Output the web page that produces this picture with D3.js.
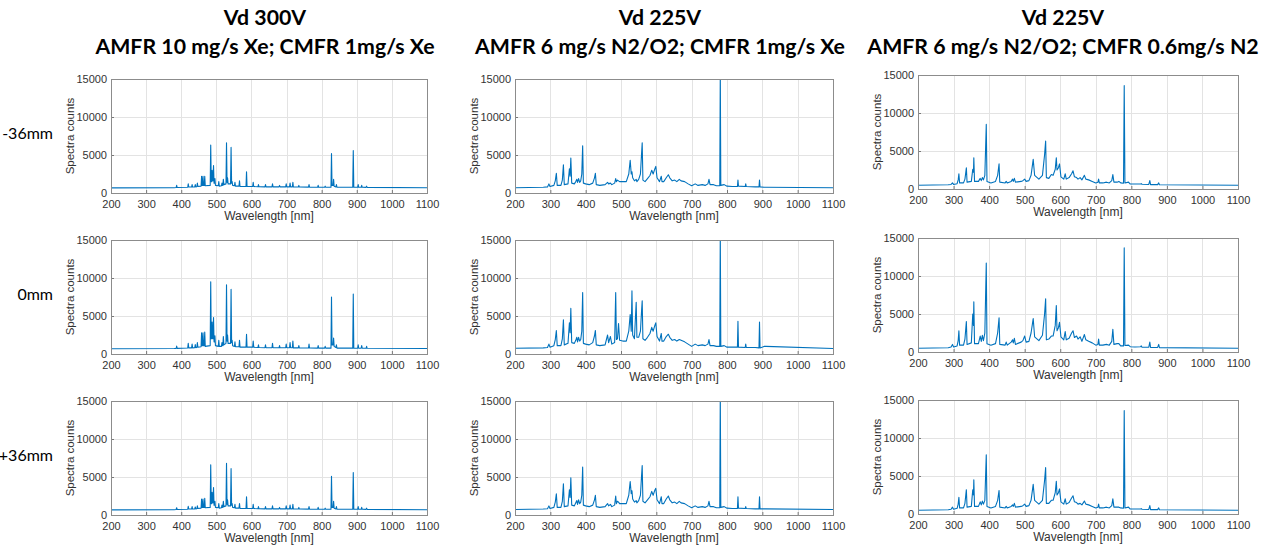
<!DOCTYPE html>
<meta charset="utf-8">
<script src="https://d3js.org/d3.v7.min.js"></script>
<style>
  body { margin: 0; background: #fff; }
  .tick text { font-family: "Liberation Sans", Arial, sans-serif; }
</style>
<body>
<div id="my_dataviz"></div>
<script>

// ---- labels ----
var colTitles = [
  ["Vd 300V", "AMFR 10 mg/s Xe; CMFR 1mg/s Xe"],
  ["Vd 225V", "AMFR 6 mg/s N2/O2; CMFR 1mg/s Xe"],
  ["Vd 225V", "AMFR 6 mg/s N2/O2; CMFR 0.6mg/s N2"]
];
var rowLabels = ["-36mm", "0mm", "+36mm"];
var xTicks = [200, 300, 400, 500, 600, 700, 800, 900, 1000, 1100];
var yTicks = [0, 5000, 10000, 15000];

// ---- column 1 : Xe anode / Xe cathode ----
var xeNm = [200, 380,
  385.5, 387, 388.5,  418.5, 420, 421.5,  429.5, 431, 432.5,  438.5, 440, 441.5,
  444.5, 446, 447.5,  456.5, 458, 459.5,  460.5, 462, 463.5,  465.5, 467, 468.5,
  482.5, 484, 485.5,  486.5, 488, 489.5,  490.5, 492, 493.5,  494.5, 496, 497.5,
  505.5, 507, 508.5,  514.5, 516, 517.5,  518.5, 520, 521.5,  527.5, 529, 530.5,
  531, 532, 533.5,    540.5, 542, 543.5,  544, 545, 546.5,    551.5, 553, 554.5,
  564.5, 566, 567.5,  584.5, 586, 587.5,  603.5, 605, 606.5,  618.5, 620, 621.5,
  638.5, 640, 641.5,  658.5, 660, 661.5,  678.5, 680, 681.5,  697.5, 699, 700.5,
  708.5, 710, 711.5,  716.5, 718, 719.5,  733.5, 735, 736.5,  762.5, 764, 765.5,
  788.5, 790, 791.5,  808.5, 810, 811.5,  826.5, 828, 829.5,  832.5, 834, 835.5,
  840.5, 842, 843.5,  888.5, 890, 891.5,  902.5, 904, 905.5,  912.5, 914, 915.5,
  926.5, 928, 929.5,
  1100];
var xeM36 = [680, 700,
  720, 1000, 720,   760, 1200, 780,   780, 1100, 780,   800, 1100, 800,
  820, 1300, 850,   900, 2200, 1000,  1000, 2200, 1000, 1000, 2200, 950,
  1000, 6300, 1500, 1500, 3000, 1600, 1600, 3600, 1300, 1300, 1900, 1000,
  950, 1500, 900,   950, 1300, 1000,  1000, 1800, 1100, 1200, 6600, 1400,
  1400, 2000, 1200, 1200, 6000, 1300, 1300, 1500, 1000, 950, 1400, 900,
  900, 1600, 850,   850, 2800, 850,   850, 1400, 850,   820, 1100, 820,
  800, 1100, 800,   800, 1200, 800,   800, 1000, 800,   800, 1200, 800,
  800, 1300, 800,   800, 1400, 780,   780, 1000, 780,   770, 1100, 770,
  760, 1000, 760,   760, 900, 760,    760, 5200, 1000,  1000, 1800, 900,
  800, 1100, 760,   760, 5600, 760,   750, 1100, 750,   750, 1000, 750,
  740, 900, 740,
  700];
var xe0 = [700, 720,
  740, 1050, 740,   780, 1400, 800,   800, 1300, 800,   820, 1250, 820,
  850, 1500, 880,   950, 2800, 1100,  1100, 2800, 1100, 1100, 2900, 1000,
  1100, 9500, 2000, 2000, 4200, 2000, 2000, 4800, 1600, 1600, 2400, 1100,
  1000, 1800, 1000, 1000, 1500, 1100, 1100, 2300, 1200, 1400, 9100, 1700,
  1700, 2500, 1400, 1400, 8500, 1500, 1500, 1800, 1100, 1000, 1600, 950,
  950, 1800, 900,   900, 2600, 900,   900, 1700, 900,   850, 1200, 850,
  820, 1200, 820,   820, 1400, 820,   820, 1100, 820,   820, 1300, 820,
  820, 1500, 820,   820, 1700, 800,   800, 1100, 800,   780, 1300, 780,
  770, 1100, 770,   770, 1000, 770,   770, 7500, 1200,  1200, 2100, 1000,
  850, 1200, 770,   770, 7900, 770,   760, 1200, 760,   760, 1100, 760,
  750, 1000, 750,
  720];
var xeP36 = [680, 700,
  720, 950, 720,    760, 1150, 780,   780, 1100, 780,   800, 1050, 800,
  820, 1200, 850,   900, 2100, 1000,  1000, 2100, 1000, 1000, 2200, 950,
  1000, 6600, 1500, 1500, 3000, 1600, 1600, 3600, 1300, 1300, 1800, 1000,
  950, 1500, 900,   950, 1300, 1000,  1000, 1800, 1100, 1200, 6800, 1400,
  1400, 2000, 1200, 1200, 6100, 1300, 1300, 1500, 1000, 950, 1400, 900,
  900, 1500, 850,   850, 2400, 850,   850, 1400, 850,   820, 1100, 820,
  800, 1100, 800,   800, 1200, 800,   800, 1000, 800,   800, 1200, 800,
  800, 1300, 800,   800, 1400, 780,   780, 1000, 780,   770, 1100, 770,
  760, 1000, 760,   760, 900, 760,    760, 5100, 1000,  1000, 1800, 900,
  800, 1100, 760,   760, 5600, 760,   750, 1100, 750,   750, 1000, 750,
  740, 900, 740,
  700];

// ---- column 2 : N2/O2 anode / Xe cathode ----
var n2xeNm = [200, 280, 292, 296, 299, 310, 314, 317, 319.5, 330, 334, 337, 339.5,
  350, 354, 356, 358, 360.5, 368, 372, 375, 377, 380, 383, 386, 389, 391.5, 393.5,
  400, 410, 420, 425, 427.5, 430, 440, 455, 462, 465, 470, 474, 482, 485, 487, 490,
  493, 496, 505, 515, 522, 526, 529, 531, 533, 538, 543, 545, 550, 555, 558, 560,
  562, 568, 575, 582, 587, 591, 596, 598.5, 602, 609, 614, 616, 621, 628, 634, 638,
  645, 652, 658, 665, 670, 680, 690, 700, 710, 718, 730, 738, 746, 749, 752, 762,
  770, 779.5, 781, 782.5, 792, 800, 815, 829.5, 831, 832.5, 851.5, 853, 854.5,
  880, 890.5, 892, 893.5, 905, 910, 1100];
var n2xeM36 = [700, 760, 800, 1200, 850, 1000, 1600, 2600, 1000, 1000, 1700, 3700, 1100,
  1200, 3200, 2200, 4600, 1300, 1200, 1500, 1800, 1400, 1900, 1400, 1600, 2500, 6200, 1300,
  1200, 1100, 1300, 2000, 2600, 1100, 1000, 1100, 1400, 1200, 1300, 1100, 1300, 1900, 1500, 1700,
  1600, 1500, 1500, 1500, 2500, 4300, 2500, 2800, 2000, 1600, 1800, 1500, 1800, 2500, 5000, 6600,
  1700, 1500, 1900, 2300, 3000, 2500, 3200, 3500, 2000, 1500, 2200, 1500, 1500, 2000, 2400, 2000,
  1600, 1700, 1500, 1800, 1600, 1500, 1200, 950, 1200, 1000, 1100, 1000, 1200, 1800, 1100, 1100,
  950, 950, 16000, 1000, 1100, 900, 850, 850, 1700, 900, 850, 1200, 850,
  800, 800, 1700, 800, 750, 750, 700];
var n2xe0 = [750, 800, 850, 1300, 900, 1100, 1900, 3100, 1100, 1100, 2000, 4500, 1200,
  1400, 4100, 2800, 6000, 1500, 1400, 1800, 2200, 1600, 2200, 1700, 1900, 3000, 8100, 1400,
  1300, 1200, 1500, 2400, 3100, 1200, 1100, 1200, 2500, 1500, 2300, 1300, 1500, 8100, 1900, 2000,
  4000, 1800, 1700, 1700, 3000, 5200, 3000, 8300, 2500, 2000, 6800, 2200, 2200, 3000, 5500, 7000,
  2000, 1800, 2200, 2700, 3500, 3000, 3800, 4100, 2300, 1700, 2700, 1700, 1700, 2300, 2600, 2200,
  1800, 1900, 1700, 1900, 1800, 1600, 1300, 1000, 1300, 1100, 1200, 1100, 1300, 1900, 1100, 1100,
  1000, 1000, 16000, 1000, 1100, 900, 900, 900, 4300, 900, 850, 1300, 850,
  850, 800, 4200, 800, 1000, 1000, 720];
var n2xeP36 = [720, 780, 820, 1200, 850, 1000, 1700, 2800, 1000, 1000, 1800, 4100, 1100,
  1200, 3300, 2300, 4900, 1300, 1200, 1600, 1900, 1400, 2000, 1500, 1700, 2600, 6300, 1300,
  1200, 1100, 1300, 2000, 2600, 1100, 1000, 1100, 1500, 1200, 1400, 1100, 1300, 2500, 1500, 1800,
  1700, 1500, 1500, 1500, 2600, 4400, 2800, 3200, 2100, 1700, 1900, 1600, 1900, 2600, 5000, 6500,
  1800, 1600, 2000, 2400, 3100, 2600, 3300, 3500, 2000, 1500, 2400, 1500, 1500, 2100, 2500, 2000,
  1600, 1700, 1500, 1800, 1600, 1500, 1200, 950, 1200, 1000, 1100, 1000, 1200, 1800, 1100, 1100,
  950, 950, 16000, 1000, 1100, 900, 850, 850, 2400, 900, 850, 1100, 850,
  800, 800, 2400, 800, 800, 800, 720];

// ---- column 3 : N2/O2 anode / N2 cathode ----
var n2n2Nm = [200, 285, 293, 297, 300, 310, 313, 315, 317, 328, 332, 336, 338,
  350, 354, 356, 357, 359, 370, 375, 378, 381, 384, 388, 392, 394, 405, 418, 424, 428, 430,
  445, 448, 451, 462, 466, 468, 471, 474, 490, 495, 500, 504, 512, 518, 524, 528, 540,
  550, 556, 559, 561, 568, 575, 580, 586, 589, 591, 595, 598, 602, 610, 614, 617, 625,
  632, 636, 640, 646, 650, 656, 661, 668, 672, 680, 690, 700, 706, 708, 710, 720, 730,
  738, 745, 748, 751, 760, 765, 770, 778, 780, 782, 792, 797, 810, 826, 828, 830,
  849, 852, 854, 874, 877, 879, 1100];
var n2n2M36 = [500, 560, 600, 800, 600, 700, 1200, 2000, 800, 800, 1300, 2800, 900,
  1000, 2600, 2200, 4100, 1000, 1000, 1400, 1100, 1500, 1200, 1800, 8500, 1000, 800, 1000, 1800, 3300, 900,
  800, 1000, 800, 1000, 1300, 1000, 1400, 900, 1000, 1100, 1300, 1000, 1100, 1800, 3900, 1800, 1300,
  1800, 4500, 6300, 1500, 1400, 1900, 1800, 2600, 4100, 2500, 2800, 3300, 1600, 1300, 2000, 1300, 1500,
  2000, 2400, 1600, 1500, 1300, 1500, 1200, 1800, 1300, 1200, 1000, 800, 900, 1300, 800, 800, 900,
  800, 1100, 1900, 900, 900, 1000, 800, 750, 13600, 800, 900, 650, 650, 650, 700, 620,
  600, 1100, 580, 580, 800, 560, 500];
var n2n20 = [500, 560, 650, 1000, 650, 800, 1500, 2800, 900, 900, 1700, 4000, 1000,
  1200, 5000, 3500, 6600, 1100, 1100, 2100, 1400, 2200, 1500, 2500, 11700, 1100, 900, 1100, 2500, 4500, 1000,
  900, 1300, 900, 1300, 1600, 1200, 1800, 1000, 1300, 1500, 2100, 1300, 1400, 2500, 4400, 2000, 1500,
  2200, 5000, 7000, 1600, 1700, 2100, 2100, 3500, 6100, 2800, 3200, 3900, 2000, 1600, 2700, 1600, 1800,
  2500, 2800, 1900, 2100, 1700, 2000, 1400, 2300, 1600, 1400, 1200, 900, 1000, 1700, 900, 900, 1000,
  900, 1400, 3000, 1000, 1100, 1100, 800, 800, 13700, 850, 900, 700, 650, 700, 800, 620,
  620, 1300, 600, 600, 1000, 580, 500];
var n2n2P36 = [500, 560, 620, 900, 620, 750, 1300, 2200, 800, 800, 1400, 3200, 900,
  1000, 3200, 2500, 4500, 1000, 1000, 1600, 1200, 1700, 1300, 1800, 7800, 1000, 800, 1000, 1800, 3100, 900,
  800, 1000, 800, 1000, 1200, 1000, 1400, 900, 1000, 1100, 1300, 1000, 1100, 1800, 3900, 1800, 1300,
  1800, 4400, 6100, 1400, 1400, 1800, 1800, 2800, 4300, 2500, 2800, 3300, 1600, 1300, 2000, 1300, 1500,
  2100, 2400, 1600, 1500, 1300, 1400, 1200, 1700, 1300, 1200, 1000, 800, 900, 1300, 800, 800, 900,
  800, 1100, 2000, 900, 900, 900, 800, 750, 13600, 800, 900, 650, 650, 650, 700, 620,
  600, 1100, 580, 580, 800, 560, 500];

// one entry per panel, column by column
var columns = [
  { nm: xeNm,   rows: [xeM36, xe0, xeP36] },
  { nm: n2xeNm, rows: [n2xeM36, n2xe0, n2xeP36] },
  { nm: n2n2Nm, rows: [n2n2M36, n2n20, n2n2P36] }
];

// ---- layout ----
var W = 1270, H = 548;
var colLeft = [111, 515, 918],
    colWidth = [316, 318, 320],
    rowTop = [[79, 240, 401], [79, 240, 401], [75, 238, 400]],
    plotH = 114,
    titleX = [265, 660, 1063];

var svg = d3.select("#my_dataviz")
  .append("svg")
    .attr("width", W)
    .attr("height", H)
    .style("display", "block");

// column titles
colTitles.forEach(function(t, c) {
  t.forEach(function(line, i) {
    svg.append("text")
      .attr("x", titleX[c])
      .attr("y", 25 + i * 29)
      .attr("text-anchor", "middle")
      .attr("font-family", "Lato, 'Open Sans', sans-serif")
      .attr("font-weight", "bold")
      .attr("font-size", "21.3px")
      .attr("fill", "#000")
      .text(line);
  });
});

// row labels
rowLabels.forEach(function(lab, r) {
  svg.append("text")
    .attr("x", 53)
    .attr("y", rowTop[0][r] + plotH / 2 + 3)
    .attr("text-anchor", "end")
    .attr("font-family", "Lato, 'Open Sans', sans-serif")
    .attr("font-size", "16px")
    .attr("fill", "#000")
    .text(lab);
});

var blue = "#0072BD";
var fmt = d3.format("d");

columns.forEach(function(col, c) {
  col.rows.forEach(function(vals, r) {
    if (vals.length !== col.nm.length) console.warn("length mismatch", c, r, vals.length, col.nm.length);

    var left = colLeft[c], top = rowTop[c][r], w = colWidth[c];
    var g = svg.append("g").attr("transform", "translate(" + left + "," + top + ")");

    var x = d3.scaleLinear().domain([200, 1100]).range([0, w]);
    var y = d3.scaleLinear().domain([0, 15000]).range([plotH, 0]);

    // grid
    g.append("g").selectAll("line").data(xTicks.slice(1, -1)).enter().append("line")
      .attr("x1", function(d) { return Math.round(x(d)) + 0.5; })
      .attr("x2", function(d) { return Math.round(x(d)) + 0.5; })
      .attr("y1", 0).attr("y2", plotH)
      .attr("stroke", "#e3e3e3");
    g.append("g").selectAll("line").data(yTicks.slice(1, -1)).enter().append("line")
      .attr("y1", function(d) { return Math.round(y(d)) + 0.5; })
      .attr("y2", function(d) { return Math.round(y(d)) + 0.5; })
      .attr("x1", 0).attr("x2", w)
      .attr("stroke", "#e3e3e3");

    // spectrum
    var clipId = "clip" + c + r;
    g.append("clipPath").attr("id", clipId)
      .append("rect").attr("width", w).attr("height", plotH);

    var pts = col.nm.map(function(n, i) { return [n, vals[i]]; });
    g.append("path")
      .datum(pts)
      .attr("clip-path", "url(#" + clipId + ")")
      .attr("fill", "none")
      .attr("stroke", blue)
      .attr("stroke-width", 1.1)
      .attr("stroke-linejoin", "round")
      .attr("d", d3.line()
        .x(function(d) { return x(d[0]); })
        .y(function(d) { return y(d[1]); }));

    // axes
    var xa = g.append("g")
      .attr("transform", "translate(0," + plotH + ")")
      .call(d3.axisBottom(x).tickValues(xTicks).tickFormat(fmt)
        .tickSizeInner(-3).tickSizeOuter(0).tickPadding(7));
    var ya = g.append("g")
      .call(d3.axisLeft(y).tickValues(yTicks).tickFormat(fmt)
        .tickSizeInner(-3).tickSizeOuter(0).tickPadding(4));
    [xa, ya].forEach(function(a) {
      a.select(".domain").remove();
      a.selectAll(".tick line").attr("stroke", "#777");
      a.selectAll(".tick text").attr("fill", "#333").attr("font-size", "11px");
    });

    // box
    g.append("rect")
      .attr("x", 0.5).attr("y", 0.5)
      .attr("width", w).attr("height", plotH)
      .attr("fill", "none")
      .attr("stroke", "#8c8c8c");

    // axis labels
    g.append("text")
      .attr("x", w / 2)
      .attr("y", plotH + 27)
      .attr("text-anchor", "middle")
      .attr("font-family", "'Liberation Sans', Arial, sans-serif")
      .attr("font-size", "12px")
      .attr("fill", "#333")
      .text("Wavelength [nm]");
    g.append("text")
      .attr("transform", "translate(" + (-41) + "," + (plotH / 2) + ") rotate(-90)")
      .attr("text-anchor", "middle")
      .attr("dy", "0.35em")
      .attr("font-family", "'Liberation Sans', Arial, sans-serif")
      .attr("font-size", "11.5px")
      .attr("fill", "#333")
      .text("Spectra counts");
  });
});

</script>
